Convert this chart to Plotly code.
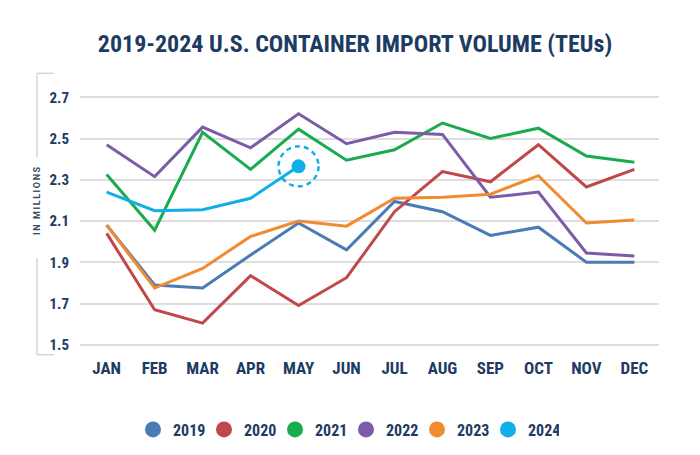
import plotly.graph_objects as go

months = ["JAN", "FEB", "MAR", "APR", "MAY", "JUN", "JUL", "AUG", "SEP", "OCT", "NOV", "DEC"]
years = ["2019", "2020", "2021", "2022", "2023", "2024"]
y2019 = [2.08, 1.79, 1.775, 1.935, 2.09, 1.96, 2.195, 2.145, 2.03, 2.07, 1.90, 1.90]
y2020 = [2.04, 1.67, 1.605, 1.835, 1.69, 1.825, 2.145, 2.34, 2.29, 2.47, 2.265, 2.35]
y2021 = [2.325, 2.055, 2.53, 2.35, 2.545, 2.395, 2.445, 2.575, 2.50, 2.55, 2.415, 2.385]
y2022 = [2.47, 2.315, 2.555, 2.455, 2.62, 2.475, 2.53, 2.52, 2.215, 2.24, 1.945, 1.93]
y2023 = [2.08, 1.775, 1.87, 2.025, 2.10, 2.075, 2.21, 2.215, 2.23, 2.32, 2.09, 2.105]
y2024 = [2.24, 2.15, 2.155, 2.21, 2.365]
series = [y2019, y2020, y2021, y2022, y2023, y2024]
colors = ["#4a7bb7", "#c0474a", "#1aab4f", "#7b5ca8", "#f28a30", "#11aee8"]
ytick_vals = [1.5, 1.7, 1.9, 2.1, 2.3, 2.5, 2.7]
ytick_text = ["1.5", "1.7", "1.9", "2.1", "2.3", "2.5", "2.7"]

NAVY = "#1d3b63"
FONT = "Roboto Condensed, Liberation Sans Narrow, Roboto, sans-serif"

W, H = 700, 455
OFF = 8  # page body margin offset of the rendered figure
ML, MR, MT, MB = 80 - OFF, 41 + OFF, 88.7 - OFF, 101.7 + OFF
PW, PH = W - ML - MR, H - MT - MB


def px_x(px):
    return (px - OFF - ML) / PW


def px_y(py):
    return (H - MB - (py - OFF)) / PH


fig = go.Figure()
for name, vals, col in zip(years, series, colors):
    fig.add_trace(go.Scatter(
        x=months[:len(vals)], y=vals, mode="lines",
        line=dict(color=col, width=3), showlegend=False, hoverinfo="skip"))

# current-month highlight dot
last_idx = len(y2024) - 1
fig.add_trace(go.Scatter(
    x=[months[last_idx]], y=[y2024[last_idx]], mode="markers",
    marker=dict(color=colors[5], size=14), showlegend=False, hoverinfo="skip"))

# legend entries (circle symbols)
for name, col in zip(years, colors):
    fig.add_trace(go.Scatter(
        x=[None], y=[None], mode="markers", name=name,
        marker=dict(color=col, size=16)))

shapes = [
    dict(type="circle", xref="x", yref="y", xsizemode="pixel", ysizemode="pixel",
         xanchor=months[last_idx], yanchor=y2024[last_idx],
         x0=-20, x1=20, y0=-20, y1=20,
         line=dict(color=colors[5], width=2.5, dash="5px,4px")),
]
bracket_col = "#d6d6d6"
for (xa, ya, xb, yb) in [(37, 73, 37, 157), (37, 258, 37, 355), (37, 73, 54, 73), (37, 355, 54, 355)]:
    shapes.append(dict(type="line", xref="paper", yref="paper",
                       x0=px_x(xa), y0=px_y(ya), x1=px_x(xb), y1=px_y(yb),
                       line=dict(color=bracket_col, width=1.5)))

fig.update_layout(
    width=W, height=H, autosize=False,
    margin=dict(l=ML, r=MR, t=MT, b=MB, pad=0),
    paper_bgcolor="white", plot_bgcolor="white",
    title=dict(text="2019-2024 U.S. CONTAINER IMPORT VOLUME (TEUs)",
               x=(355 - OFF) / W, xanchor="center", xref="container",
               y=1 - (44 - OFF) / H, yanchor="middle", yref="container",
               font=dict(family=FONT, size=24, color=NAVY, weight="bold")),
    xaxis=dict(type="category", range=[-0.556, 11.514], showgrid=False, zeroline=False,
               showline=False, ticks="", ticklabelstandoff=3,
               tickfont=dict(family=FONT, size=17, color=NAVY, weight="bold")),
    yaxis=dict(range=[1.46, 2.74], tickvals=ytick_vals, ticktext=ytick_text,
               showgrid=True, gridcolor="#dedede", gridwidth=1.5, zeroline=False,
               showline=False, ticks="", ticklabelstandoff=10,
               tickfont=dict(family=FONT, size=15, color=NAVY, weight="bold")),
    legend=dict(orientation="h", x=px_x(346), xanchor="center", y=px_y(430), yanchor="middle",
                font=dict(family=FONT, size=16, color=NAVY, weight="bold"),
                itemwidth=30, itemclick=False, entrywidth=26, entrywidthmode="pixels"),
    shapes=shapes,
    annotations=[dict(text='<span style="letter-spacing:1.6px">IN MILLIONS</span>',
                      xref="paper", yref="paper",
                      x=px_x(37), y=px_y(200), textangle=-90, showarrow=False,
                      xanchor="center", yanchor="middle",
                      font=dict(family="Roboto, sans-serif", size=9, color="#3b4d66", weight="bold"))],
)

fig.write_html("out.html")
